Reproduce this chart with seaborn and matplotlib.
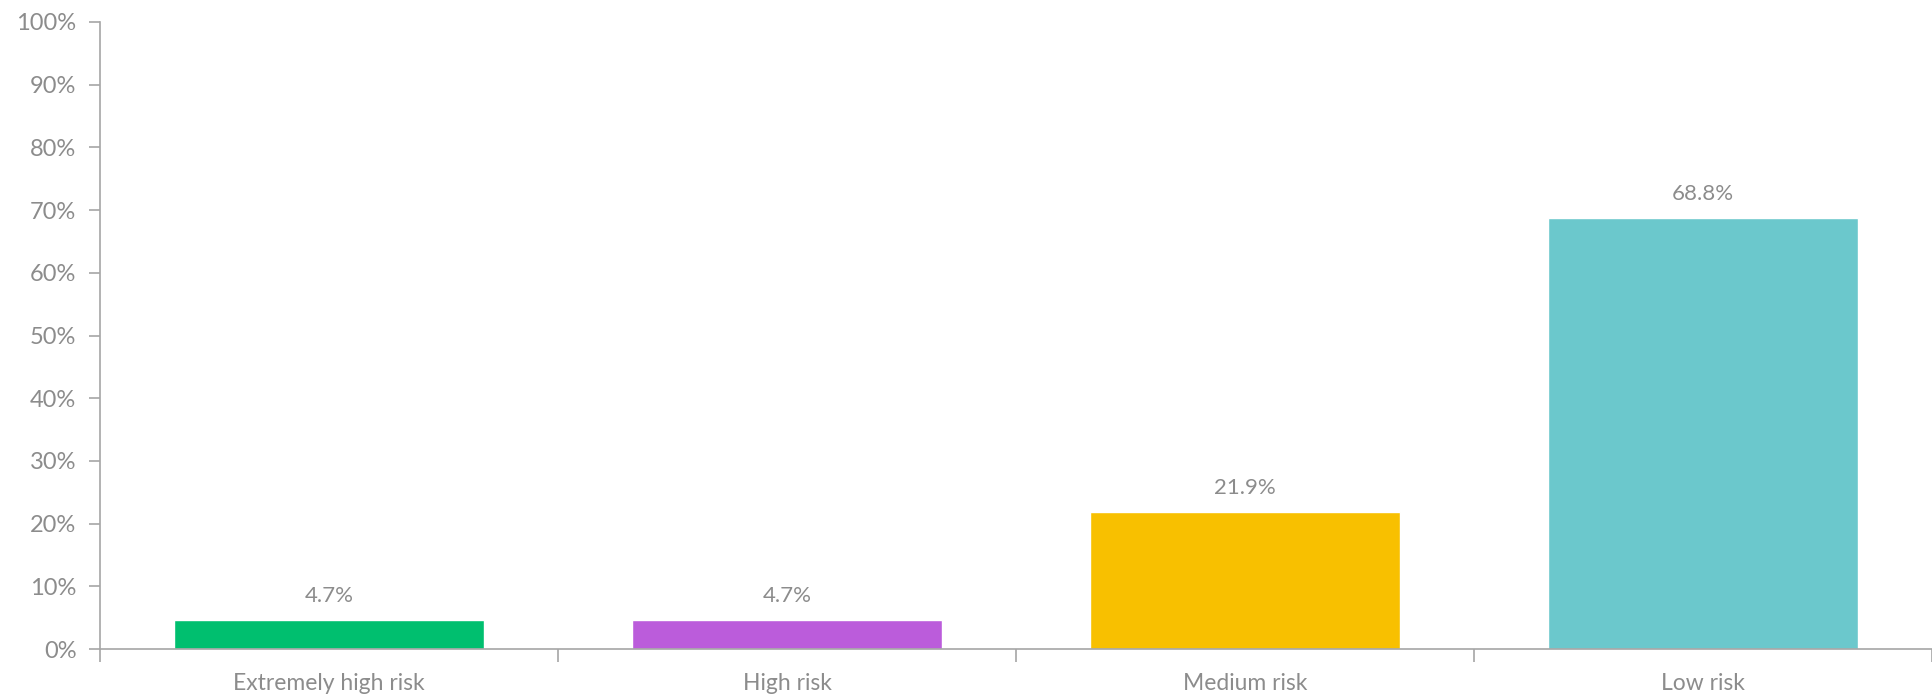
import matplotlib
matplotlib.use("Agg")
import matplotlib.pyplot as plt
import seaborn as sns
import pandas as pd
from matplotlib.ticker import FixedLocator, PercentFormatter

categories = ["Extremely high risk", "High risk", "Medium risk", "Low risk"]
shares = [4.7, 4.7, 21.9, 68.8]
colors = ["#00BF6F", "#BB5CDB", "#F8C000", "#6BC8CC"]

sns.set_theme(style="white")
plt.rcParams["font.family"] = ["Lato", "DejaVu Sans"]

text_gray = "#8C8C8C"
axis_gray = "#A6A6A6"

df = pd.DataFrame({"category": categories, "share": shares})

fig = plt.figure(figsize=(19.32, 6.97), dpi=100)
ax = fig.add_axes([100 / 1932, 1 - 649 / 697, 1 - 100 / 1932, (649 - 22) / 697])

sns.barplot(data=df, x="category", y="share", hue="category",
            palette=colors, order=categories, hue_order=categories,
            width=0.675, legend=False, ax=ax, saturation=1)

for container in ax.containers:
    ax.bar_label(container, labels=[f"{v:.1f}%" for v in container.datavalues],
                 padding=10, fontsize=16, color=text_gray)

ax.set_ylim(0, 100)
ax.set_xlim(-0.5, len(categories) - 0.5)
ax.set_yticks(range(0, 101, 10))
ax.yaxis.set_major_formatter(PercentFormatter(decimals=0))

# category separators as minor ticks, labels centred with no tick mark
ax.xaxis.set_minor_locator(FixedLocator([i - 0.5 for i in range(len(categories) + 1)]))
ax.tick_params(axis="x", which="major", length=0, pad=17, labelsize=16.5, labelcolor=text_gray)
ax.tick_params(axis="x", which="minor", length=9, width=1.2, color=axis_gray, direction="out")
ax.tick_params(axis="y", which="major", length=8, width=1.2, color=axis_gray, direction="out",
               labelsize=17, labelcolor=text_gray, pad=9)
ax.tick_params(bottom=True, left=True, which="both")

ax.set_xlabel("")
ax.set_ylabel("")
for side in ["top", "right"]:
    ax.spines[side].set_visible(False)
for side in ["left", "bottom"]:
    ax.spines[side].set_color(axis_gray)
    ax.spines[side].set_linewidth(1.2)

fig.savefig("out.png", dpi=100, facecolor="white")
